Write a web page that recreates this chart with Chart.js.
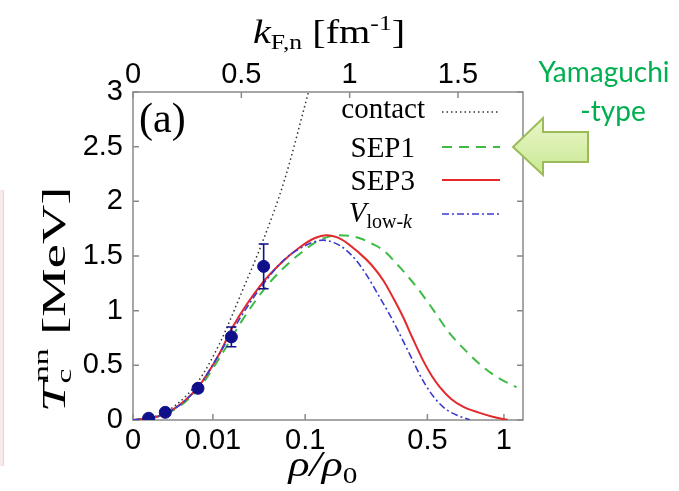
<!DOCTYPE html>
<html>
<head>
<meta charset="utf-8">
<script src="https://cdn.jsdelivr.net/npm/chart.js@4.4.0/dist/chart.umd.min.js"></script>
<style>
  html, body { margin: 0; padding: 0; background: #fff; }
  #wrap { position: relative; width: 679px; height: 491px; overflow: hidden; }
  canvas { display: block; }
</style>
</head>
<body>
<div id="wrap"><canvas id="c" width="679" height="491"></canvas></div>
<script>
// Neutron Fermi momentum at saturation density [fm^-1]
const KF0 = 1.712;

// Axis ticks
const rhoTicks = [0, 0.01, 0.1, 0.5, 1];          // rho/rho0 (bottom)
const kfTicks = [0, 0.5, 1, 1.5];                  // k_F,n [fm^-1] (top)
const tTicks = [0, 0.5, 1, 1.5, 2, 2.5, 3];        // T_c [MeV] (left)

// contact interaction
const kfContact = [0, 0.1, 0.2, 0.3, 0.4, 0.5, 0.6, 0.7, 0.81];
const tContact  = [0, 0.03, 0.14, 0.35, 0.70, 1.16, 1.64, 2.20, 3.0];

// SEP1 (Yamaguchi-type separable potential)
const kfSEP1 = [0, 0.1, 0.17, 0.3, 0.4, 0.5, 0.615, 0.7, 0.77, 0.86, 0.95, 1.0, 1.05, 1.1, 1.154, 1.23, 1.308, 1.385, 1.462, 1.54, 1.615, 1.69, 1.77];
const tSEP1  = [0, 0.025, 0.07, 0.28, 0.57, 0.90, 1.22, 1.40, 1.52, 1.645, 1.69, 1.685, 1.66, 1.615, 1.554, 1.40, 1.218, 1.01, 0.792, 0.625, 0.487, 0.38, 0.30];

// SEP3
const kfSEP3 = [0, 0.1, 0.17, 0.3, 0.4, 0.46, 0.6, 0.68, 0.77, 0.84, 0.892, 0.96, 1.046, 1.1, 1.154, 1.2, 1.246, 1.29, 1.338, 1.38, 1.415, 1.47, 1.523, 1.6, 1.66, 1.73];
const tSEP3  = [0, 0.025, 0.076, 0.30, 0.61, 0.85, 1.26, 1.43, 1.58, 1.665, 1.69, 1.655, 1.524, 1.42, 1.28, 1.12, 0.944, 0.75, 0.548, 0.40, 0.304, 0.19, 0.122, 0.065, 0.03, 0.0];

// V_low-k
const kfVlowk = [0, 0.1, 0.17, 0.3, 0.4, 0.5, 0.6, 0.7, 0.8, 0.877, 0.93, 0.98, 1.03, 1.08, 1.139, 1.18, 1.216, 1.25, 1.29, 1.33, 1.37, 1.41, 1.45, 1.50, 1.555];
const tVlowk  = [0, 0.025, 0.075, 0.30, 0.61, 0.95, 1.24, 1.47, 1.60, 1.645, 1.62, 1.56, 1.46, 1.32, 1.12, 0.98, 0.845, 0.71, 0.55, 0.39, 0.26, 0.16, 0.09, 0.04, 0.0];

// Quantum Monte Carlo results with uncertainties
const kfQMC  = [0.072, 0.149, 0.30, 0.454, 0.603];
const tQMC   = [0.016, 0.07, 0.29, 0.76, 1.405];
const errQMC = [0.005, 0.01, 0.03, 0.09, 0.205];

const pairs = (xs, ys) => xs.map((x, i) => ({ x: x, y: ys[i] }));

const GREEN = '#3dbb45', RED = '#e3292b', BLUE = '#3a3ad0', NAVY = '#10108a', FRAME = '#8a8a8a';
const SERIF = '"Liberation Serif", "Times New Roman", serif';
const SANS = '"Liberation Sans", Arial, sans-serif';

// Frame and inward tick marks on all four sides
const framePlugin = {
  id: 'frame',
  beforeDatasetsDraw(chart) {
    const { ctx, chartArea: a, scales } = chart;
    ctx.save();
    ctx.strokeStyle = FRAME;
    ctx.lineWidth = 1.5;
    ctx.strokeRect(a.left, a.top, a.right - a.left, a.bottom - a.top);
    const L = 6;
    ctx.beginPath();
    tTicks.forEach(v => {
      const y = scales.y.getPixelForValue(v);
      ctx.moveTo(a.left, y); ctx.lineTo(a.left + L, y);
      ctx.moveTo(a.right, y); ctx.lineTo(a.right - L, y);
    });
    rhoTicks.forEach(r => {
      const x = scales.x.getPixelForValue(KF0 * Math.cbrt(r));
      ctx.moveTo(x, a.bottom); ctx.lineTo(x, a.bottom - L);
    });
    kfTicks.forEach(k => {
      const x = scales.x2.getPixelForValue(k);
      ctx.moveTo(x, a.top); ctx.lineTo(x, a.top + L);
    });
    ctx.stroke();
    ctx.restore();
  }
};

// Vertical error bars on the QMC points
const errorBarPlugin = {
  id: 'errorBars',
  afterDatasetsDraw(chart) {
    const { ctx, scales } = chart;
    ctx.save();
    ctx.strokeStyle = NAVY;
    ctx.lineWidth = 1.6;
    kfQMC.forEach((k, i) => {
      const x = scales.x.getPixelForValue(k);
      const y1 = scales.y.getPixelForValue(tQMC[i] - errQMC[i]);
      const y2 = scales.y.getPixelForValue(tQMC[i] + errQMC[i]);
      ctx.beginPath();
      ctx.moveTo(x, y1); ctx.lineTo(x, y2);
      ctx.moveTo(x - 5, y1); ctx.lineTo(x + 5, y1);
      ctx.moveTo(x - 5, y2); ctx.lineTo(x + 5, y2);
      ctx.stroke();
    });
    ctx.restore();
  }
};

// Draws runs of text with italic / sub / superscript parts, optionally widened by sx
function drawRuns(ctx, runs, x, y, align, sx) {
  sx = sx || 1;
  const widths = runs.map(r => { ctx.font = r.font; return ctx.measureText(r.t).width; });
  const total = widths.reduce((a, b) => a + b, 0);
  let cx = align === 'right' ? -total : align === 'center' ? -total / 2 : 0;
  ctx.save();
  ctx.translate(x, y);
  ctx.scale(sx, 1);
  ctx.textAlign = 'left';
  ctx.textBaseline = 'alphabetic';
  runs.forEach((r, i) => {
    ctx.font = r.font;
    ctx.fillText(r.t, cx + (r.dx || 0), r.dy || 0);
    cx += (r.adv === undefined ? widths[i] : r.adv);
  });
  ctx.restore();
}

// Axis titles, panel label, legend and annotation
const textPlugin = {
  id: 'texts',
  afterDraw(chart) {
    const { ctx } = chart;
    ctx.save();
    ctx.fillStyle = '#000';

    // top axis title: k_F,n [fm^-1]
    drawRuns(ctx, [
      { t: 'k', font: `italic 33px ${SERIF}` },
      { t: 'F,n', font: `21px ${SERIF}`, dy: 6 },
      { t: ' [fm', font: `33px ${SERIF}` },
      { t: '-1', font: `21px ${SERIF}`, dy: -13 },
      { t: ']', font: `33px ${SERIF}` }
    ], 329, 43, 'center', 1.22);

    // bottom axis title: rho/rho_0
    drawRuns(ctx, [
      { t: 'ρ/ρ', font: `italic 36px ${SERIF}` },
      { t: '0', font: `24px ${SERIF}`, dy: 7 }
    ], 323, 476, 'center', 1.22);

    // left axis title: T_c^nn [MeV]
    ctx.save();
    ctx.translate(65, 292);
    ctx.rotate(-Math.PI / 2);
    drawRuns(ctx, [
      { t: 'T', font: `italic 34px ${SERIF}` },
      { t: 'c', font: `21px ${SERIF}`, dy: 6, dx: -1, adv: 0 },
      { t: 'nn', font: `21px ${SERIF}`, dy: -17 },
      { t: ' [MeV]', font: `34px ${SERIF}` }
    ], 0, 0, 'center', 1.6);
    ctx.restore();

    // panel label
    drawRuns(ctx, [{ t: '(a)', font: `42px ${SERIF}` }], 139, 132, 'left', 1);

    // legend
    const legend = [
      { runs: [{ t: 'contact', font: `29px ${SERIF}` }], right: 425, y: 112, base: 6, color: '#333', dash: [1.5, 3], w: 1.5 },
      { runs: [{ t: 'SEP1', font: `29px ${SERIF}` }], right: 415, y: 147, base: 10, color: GREEN, dash: [10, 7], w: 2 },
      { runs: [{ t: 'SEP3', font: `29px ${SERIF}` }], right: 415, y: 180, base: 10, color: RED, dash: [], w: 2 },
      { runs: [{ t: 'V', font: `italic 29px ${SERIF}` }, { t: 'low-', font: `20px ${SERIF}`, dy: 6 }, { t: 'k', font: `italic 20px ${SERIF}`, dy: 6 }], right: 412, y: 214, base: 8, color: BLUE, dash: [7, 3, 2, 3], w: 1.6 }
    ];
    legend.forEach(e => {
      ctx.fillStyle = '#000';
      drawRuns(ctx, e.runs, e.right, e.y + e.base, 'right', 1);
      ctx.beginPath();
      ctx.setLineDash(e.dash);
      ctx.strokeStyle = e.color;
      ctx.lineWidth = e.w;
      ctx.moveTo(442, e.y); ctx.lineTo(500, e.y);
      ctx.stroke();
    });
    ctx.setLineDash([]);

    // annotation arrow
    ctx.beginPath();
    ctx.moveTo(513, 147);
    ctx.lineTo(543, 118);
    ctx.lineTo(543, 132);
    ctx.lineTo(588, 132);
    ctx.lineTo(588, 162);
    ctx.lineTo(543, 162);
    ctx.lineTo(543, 175);
    ctx.closePath();
    const g = ctx.createLinearGradient(0, 118, 0, 175);
    g.addColorStop(0, '#eaf7c8');
    g.addColorStop(1, '#c9e894');
    ctx.fillStyle = g;
    ctx.fill();
    ctx.strokeStyle = '#9bbb59';
    ctx.lineWidth = 2;
    ctx.stroke();

    // annotation text
    ctx.fillStyle = '#00b050';
    ctx.textAlign = 'center';
    ctx.textBaseline = 'alphabetic';
    ctx.font = '28px Lato, "Open Sans", sans-serif';
    ctx.fillText('Yamaguchi', 604, 82);
    ctx.fillText('-type', 613, 121);

    // faint margin line on the left
    ctx.fillStyle = '#f8eaea';
    ctx.fillRect(0, 190, 4, 276);
    ctx.fillStyle = '#efd3d3';
    ctx.fillRect(3, 190, 1, 276);

    ctx.restore();
  }
};

const lineDs = (label, xs, ys, color, dash, width, order) => ({
  type: 'line', label, data: pairs(xs, ys),
  borderColor: color, borderWidth: width, borderDash: dash,
  pointRadius: 0, fill: false, cubicInterpolationMode: 'monotone', order,
  xAxisID: 'x', yAxisID: 'y'
});

new Chart(document.getElementById('c'), {
  type: 'scatter',
  data: {
    datasets: [
      {
        type: 'scatter', label: 'QMC', data: pairs(kfQMC, tQMC),
        backgroundColor: NAVY, borderColor: NAVY, pointRadius: 6, pointHoverRadius: 6,
        order: 0, xAxisID: 'x', yAxisID: 'y'
      },
      lineDs('contact', kfContact, tContact, '#333', [1.5, 3], 1.5, 4),
      lineDs('SEP1', kfSEP1, tSEP1, GREEN, [10, 7], 2, 3),
      lineDs('SEP3', kfSEP3, tSEP3, RED, [], 2, 2),
      lineDs('Vlowk', kfVlowk, tVlowk, BLUE, [7, 3, 2, 3], 1.6, 1)
    ]
  },
  options: {
    responsive: false,
    animation: false,
    devicePixelRatio: 1,
    layout: { padding: { left: 0, right: 156, top: 0, bottom: 0 } },
    plugins: { legend: { display: false }, tooltip: { enabled: false } },
    scales: {
      x: {
        type: 'linear', position: 'bottom', min: 0, max: 1.8,
        afterBuildTicks: s => { s.ticks = rhoTicks.map(r => ({ value: KF0 * Math.cbrt(r) })); },
        afterFit: s => { s.height = 71; },
        ticks: {
          autoSkip: false, maxRotation: 0, padding: 4, color: '#000',
          font: { family: SANS, size: 29 },
          callback: (v, i) => String(rhoTicks[i])
        },
        grid: { display: false, drawTicks: false },
        border: { display: false }
      },
      x2: {
        type: 'linear', position: 'top', min: 0, max: 1.8,
        afterBuildTicks: s => { s.ticks = kfTicks.map(k => ({ value: k })); },
        afterFit: s => { s.height = 92; },
        ticks: {
          autoSkip: false, maxRotation: 0, padding: 0, color: '#000',
          font: { family: SANS, size: 29 },
          callback: v => String(v)
        },
        grid: { display: false, drawTicks: false },
        border: { display: false }
      },
      y: {
        type: 'linear', position: 'left', min: 0, max: 3,
        afterBuildTicks: s => { s.ticks = tTicks.map(t => ({ value: t })); },
        afterFit: s => { s.width = 133; },
        ticks: {
          padding: 10, color: '#000',
          font: { family: SANS, size: 29 },
          callback: v => String(v)
        },
        grid: { display: false, drawTicks: false },
        border: { display: false }
      }
    }
  },
  plugins: [framePlugin, errorBarPlugin, textPlugin]
});
</script>
</body>
</html>
